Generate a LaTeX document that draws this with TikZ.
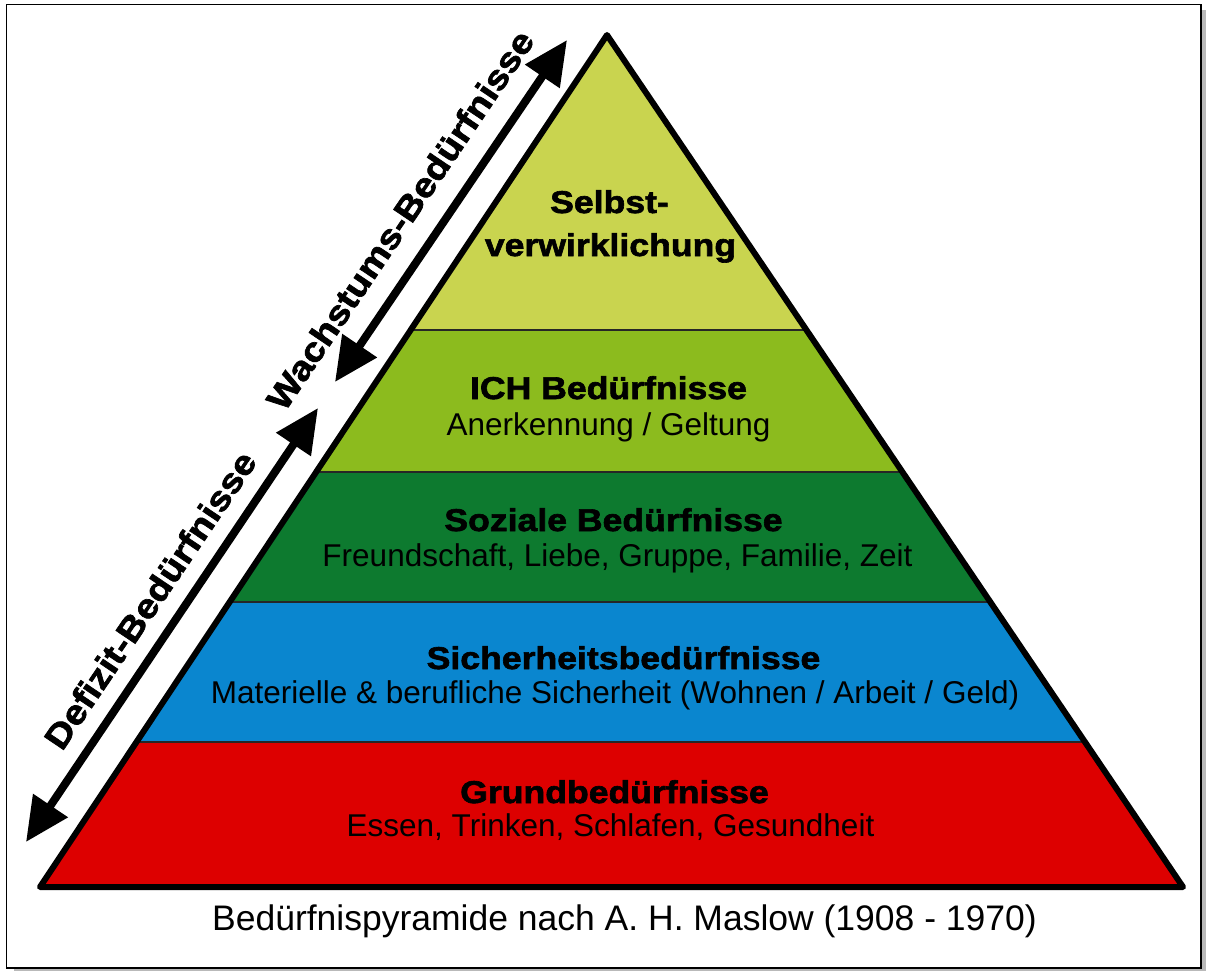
\documentclass[tikz,border=0pt]{standalone}
\usepackage{fontspec}
\setmainfont{Liberation Sans}
\newfontfamily\heavy{Liberation Sans Bold}[FakeStretch=1.13,FakeBold=2]
\usetikzlibrary{arrows.meta}
\definecolor{cTop}{HTML}{C9D44F}
\definecolor{cIch}{HTML}{8CBB1E}
\definecolor{cSoz}{HTML}{0D7A2F}
\definecolor{cSich}{HTML}{0A86CF}
\definecolor{cGrund}{HTML}{DD0000}
\begin{document}
\begin{tikzpicture}[x=1pt,y=-1pt,
  head/.style={font=\heavy\fontsize{31.5}{34}\selectfont, anchor=base, inner sep=0pt},
  sub/.style={font=\fontsize{31.5}{36}\selectfont, anchor=base, inner sep=0pt},
  captext/.style={font=\fontsize{35.5}{40}\selectfont, anchor=base, inner sep=0pt},
  side/.style={font=\heavy\fontsize{34}{36}\selectfont, rotate=56, inner sep=0pt},
  dbl/.style={line width=8pt, {Triangle[length=44pt,width=40pt]}-{Triangle[length=44pt,width=40pt]}},
  sep/.style={line width=2pt, black!85}]
\useasboundingbox (0,0) rectangle (1206,971);
% frame with shadow
\fill[gray!55] (14,968) rectangle (1206,971);
\fill[gray!55] (1201,10) rectangle (1206,971);
\draw[line width=1.5pt] (6.5,4.5) rectangle (1201,968);
% pyramid
\coordinate (A) at (607,35);
\coordinate (L) at (40,887);
\coordinate (R) at (1183,887);
\begin{scope}
  \clip (A) -- (R) -- (L) -- cycle;
  \fill[cTop]   (0,0)   rectangle (1206,330);
  \fill[cIch]   (0,330) rectangle (1206,472);
  \fill[cSoz]   (0,472) rectangle (1206,602);
  \fill[cSich]  (0,602) rectangle (1206,742);
  \fill[cGrund] (0,742) rectangle (1206,900);
  \draw[sep] (0,330) -- (1206,330);
  \draw[sep] (0,472) -- (1206,472);
  \draw[sep] (0,602) -- (1206,602);
  \draw[sep] (0,742) -- (1206,742);
\end{scope}
\draw[line width=6pt, line join=round] (A) -- (R) -- (L) -- cycle;
% texts
\node[head] (s1) at (609.5,213) {Selbst-};
\node[head] (s2) at (610.5,256) {verwirklichung};
\node[head] (i1) at (608.5,399) {ICH Bedürfnisse};
\node[sub]  (i2) at (608.5,435) {Anerkennung / Geltung};
\node[head] (z1) at (613.5,531) {Soziale Bedürfnisse};
\node[sub]  (z2) at (617.5,566) {Freundschaft, Liebe, Gruppe, Familie, Zeit};
\node[head] (c1) at (623.5,669) {Sicherheitsbedürfnisse};
\node[sub]  (c2) at (615,703) {Materielle \& berufliche Sicherheit (Wohnen / Arbeit / Geld)};
\node[head] (g1) at (614.5,803) {Grundbedürfnisse};
\node[sub]  (g2) at (610.5,836) {Essen, Trinken, Schlafen, Gesundheit};
\node[captext] (cp) at (624.5,930) {Bedürfnispyramide nach A. H. Maslow (1908 - 1970)};
% side arrows
\coordinate (wt) at (567,40);
\coordinate (wb) at (335,382);
\coordinate (dt) at (318,408);
\coordinate (db) at (26,842);
\draw[dbl] (wb) -- (wt);
\draw[dbl] (db) -- (dt);
\node[side] (wl) at (400,220) {Wachstums-Bedürfnisse};
\node[side] (dl) at (150,600) {Defizit-Bedürfnisse};
\end{tikzpicture}
\end{document}
